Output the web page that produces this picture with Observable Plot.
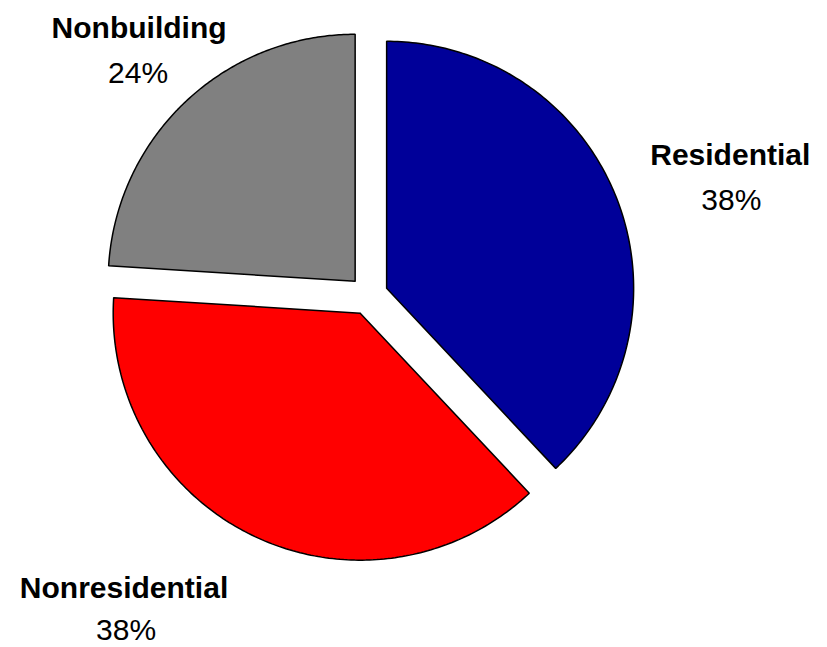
<!DOCTYPE html>
<html>
<head>
<meta charset="utf-8">
<script src="https://cdn.jsdelivr.net/npm/d3@7"></script>
<script src="https://cdn.jsdelivr.net/npm/@observablehq/plot@0.6"></script>
<style>
  html, body { margin: 0; padding: 0; background: #fff; }
  #chart svg { display: block; }
</style>
</head>
<body>
<div id="chart"></div>
<script>
// ---- data ----
const categories = ["Residential", "Nonresidential", "Nonbuilding"];
const shares = [38, 38, 24];
const colors = ["#000099", "#FF0000", "#808080"];
const percentLabels = ["38%", "38%", "24%"];

// ---- layout ----
const W = 827, H = 647;
const cx = 368, cy = 295, R = 247;   // pie centre and radius in px
const explode = 19.5 / R;            // explosion distance in radius units
const FONT = "'Liberation Sans', Arial, sans-serif";

const data = categories.map((c, i) => ({name: c, value: shares[i], color: colors[i], pct: percentLabels[i]}));
const arcs = d3.pie().sort(null).value(d => d.value)(data);

// build polygon outlines (unit radius, y downward) from the pie layout
const outlines = arcs.map(a => {
  const mid = (a.startAngle + a.endAngle) / 2;
  const ox = explode * Math.sin(mid), oy = -explode * Math.cos(mid);
  const pts = [{x: ox, y: oy}];
  const n = 160;
  for (let i = 0; i <= n; i++) {
    const t = a.startAngle + (a.endAngle - a.startAngle) * i / n;
    pts.push({x: ox + Math.sin(t), y: oy - Math.cos(t)});
  }
  pts.push({x: ox, y: oy});
  return {name: a.data.name, color: a.data.color, pct: a.data.pct, mid, pts};
});

// label anchor: outer edge point on each slice's bisector
const edge = o => ({x: (1 + explode) * Math.sin(o.mid), y: -(1 + explode) * Math.cos(o.mid)});
// per-slice nudges in px (name / percentage)
const nudge = {
  "Residential":    {n: [114, -32], p: [115, 13]},
  "Nonresidential": {n: [-131, 61], p: [-129, 103]},
  "Nonbuilding":    {n: [-47, -63], p: [-48, -18]}
};

const marks = [];
outlines.forEach(o => {
  marks.push(Plot.line(o.pts, {x: "x", y: "y", fill: o.color, stroke: "#000", strokeWidth: 1.5, curve: "linear", strokeLinejoin: "miter"}));
});
outlines.forEach(o => {
  const e = edge(o);
  const nd = nudge[o.name];
  marks.push(Plot.text([{...e, label: o.name}], {x: "x", y: "y", text: "label", dx: nd.n[0], dy: nd.n[1],
    lineAnchor: "bottom", textAnchor: "middle", fontSize: 30, fontWeight: "bold", fill: "#000"}));
  marks.push(Plot.text([{...e, label: o.pct}], {x: "x", y: "y", text: "label", dx: nd.p[0], dy: nd.p[1],
    lineAnchor: "bottom", textAnchor: "middle", fontSize: 30, fontWeight: "normal", fill: "#000"}));
});

const chart = Plot.plot({
  width: W,
  height: H,
  margin: 0,
  style: {fontFamily: FONT, background: "#fff"},
  x: {domain: [-cx / R, (W - cx) / R], range: [0, W], axis: null},
  y: {domain: [-cy / R, (H - cy) / R], range: [0, H], axis: null},
  marks
});
document.getElementById("chart").appendChild(chart);
</script>
</body>
</html>
